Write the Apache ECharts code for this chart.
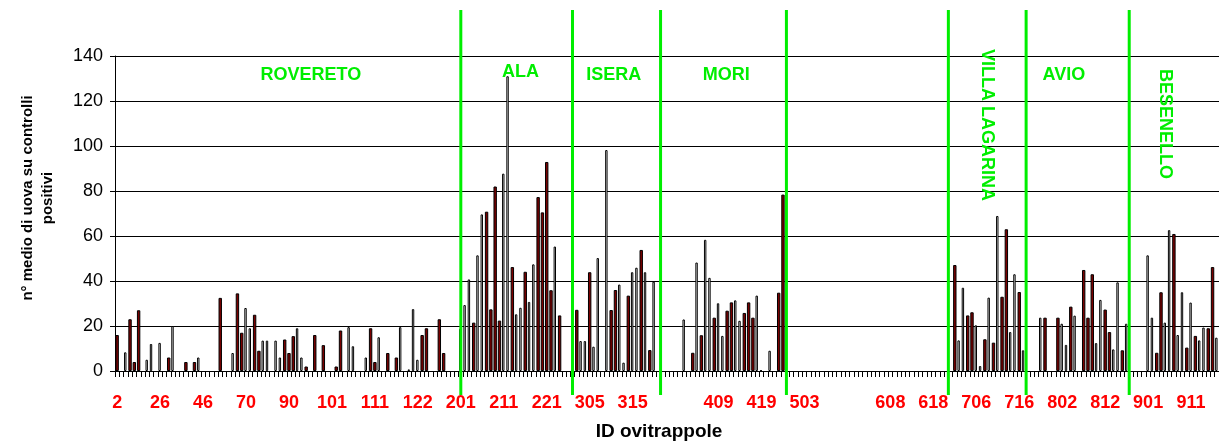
<!DOCTYPE html>
<html><head><meta charset="utf-8">
<script src="https://cdn.jsdelivr.net/npm/echarts@6/dist/echarts.min.js"></script>
<style>html,body{margin:0;padding:0;background:#fff}#c{width:1219px;height:444px}</style>
</head><body><div id="c"></div>
<script>
// Categorie (ID ovitrappole)
const categorie = [
 '2','3','5','8','10','12','15','18','21','23',
 '26','28','30','32','34','36','38','40','42','44',
 '46','48','51','53','56','58','61','63','66','68',
 '70','72','74','76','78','80','82','84','86','88',
 '90','91','92','93','94','95','96','97','98','99',
 '101','102','103','104','105','106','107','108','109','110',
 '111','112','113','114','115','116','117','118','119','120',
 '122','123','124','125','126','127','128','129','130','131',
 '201','202','203','204','205','206','207','208','209','210',
 '211','212','213','214','215','216','217','218','219','220',
 '221','222','223','224','225','226','227','302','303','304',
 '305','306','307','308','309','310','311','312','313','314',
 '315','316','317','318','319','320','321','322','323','324',
 ' ','400','401','402','403','404','405','406','407','408',
 '409','410','411','412','413','414','415','416','417','418',
 '419','420','421','422','423','424','425','500','501','502',
 '503','504','505','506','507','508','509','510','511','512',
 '  ','599','600','601','602','603','604','605','606','607',
 '608','609','610','611','612','613','614','615','616','617',
 '618','619','620','621','700','701','702','703','704','705',
 '706','707','708','709','710','711','712','713','714','715',
 '716','717','718','719','795','796','797','798','799','800',
 '802','803','804','805','806','807','808','809','810','811',
 '812','813','814','815','816','817','897','898','899','900',
 '901','902','903','904','905','906','907','908','909','910',
 '911','912','913','914','915','916','917'
];
const _ = null;
// barre rosso scuro
const valoriRossi = [
 16,_,_,23,4,27,_,_,_,_,
 _,_,6,_,_,_,4,_,4,_,
 _,_,_,_,32.5,_,_,_,34.5,17,
 _,_,25,9,_,_,_,_,_,14,
 8,15.5,_,_,2,_,16,_,11.5,_,
 _,2,18,_,_,_,_,_,_,19,
 4,_,_,8,_,6,_,_,_,_,
 _,16,19,_,_,23,8,_,_,_,
 _,_,_,21.5,_,_,70.8,27.4,82,22.4,
 _,_,46.2,_,_,44.1,_,_,77.3,70.5,
 92.9,35.9,_,24.7,_,_,_,27.2,_,_,
 43.9,_,_,_,_,27.1,36,_,_,33.5,
 _,_,53.8,_,9.3,_,_,_,_,_,
 _,_,_,_,8.1,_,15.9,_,_,23.7,
 _,_,26.8,30.5,_,_,25.8,30.5,23.7,_,
 _,_,_,_,34.8,78.4,_,_,_,_,
 _,_,_,_,_,_,_,_,_,_,
 _,_,_,_,_,_,_,_,_,_,
 _,_,_,_,_,_,_,_,_,_,
 _,_,_,_,_,47.1,_,_,24.7,26.1,
 _,_,14.1,_,12.6,_,33,63,_,_,
 35.1,_,_,_,_,_,23.7,_,_,23.7,
 _,_,28.6,_,_,44.9,23.7,43,_,_,
 27.3,17.3,_,_,9.2,_,_,_,_,_,
 _,_,8.1,35,_,_,60.9,_,_,10.4,
 _,15.6,_,_,19,46.2,_
];
// barre bianche (bordo nero)
const valoriBianchi = [
 _,_,8.3,_,_,_,_,5,12,_,
 12.5,_,_,20,_,_,_,_,_,6,
 _,_,_,_,_,_,_,8,_,_,
 28,19,_,_,13.5,13.5,_,13.5,6,_,
 _,_,19,6,_,_,_,_,_,_,
 _,_,_,_,19.5,11,_,_,6,_,
 _,15,_,_,_,_,19.5,_,0.7,27.5,
 5,_,_,_,_,_,_,_,_,_,
 18.8,29.3,40.7,_,51.4,69.6,_,_,_,_,
 87.7,131,_,25.2,28.1,_,30.7,47.4,_,_,
 _,_,55.3,_,_,_,_,_,13.3,13.3,
 _,10.8,50.2,_,98.2,_,_,38.4,3.7,_,
 43.9,45.9,_,43.9,_,39.7,_,_,_,_,
 _,_,22.9,_,_,48.2,_,58.3,41.4,_,
 30.1,15.6,_,_,31.4,22.3,_,_,_,33.5,
 0.4,_,9,_,_,_,_,_,_,_,
 _,_,_,_,_,_,_,_,_,_,
 _,_,_,_,_,_,_,_,_,_,
 _,_,_,_,_,_,_,_,_,_,
 _,_,_,_,_,_,13.6,37,_,_,
 20.3,2.2,_,32.6,_,68.9,_,_,17.3,43,
 _,9.2,_,_,_,23.7,_,_,_,_,
 21,11.6,_,24.6,_,_,_,_,12.4,31.6,
 _,_,9.6,39.4,_,21,_,_,_,_,
 51.4,23.7,_,_,21.5,62.6,_,16,35,_,
 30.4,_,13.6,19.3,_,_,14.8
];
// asse y
const yMin = 0, yMax = 140, yStep = 20;
// linee verdi di separazione (posizione in categorie)
const separatori = [80.0, 106.0, 126.5, 155.8, 193.5, 211.6, 235.6];
const sepTop = 160.5, sepBottom = -10.7;
// nomi dei comuni
const zoneNomi = ['ROVERETO','ALA','ISERA','MORI','VILLA LAGARINA','AVIO','BESENELLO'];
const zonePos  = [45.1, 93.9, 115.6, 141.8, 202.5, 220.4, 243.9];
const zoneY    = [131.6, 132.9, 131.6, 131.6, 109.3, 131.6, 109.8];
const zoneRuotate = [false,false,false,false,true,false,true];

const FONT = "'Liberation Sans', Arial, sans-serif";
const VERDE = '#00ee00';
const chart = echarts.init(document.getElementById('c'), null, {renderer:'canvas'});
chart.setOption({
  animation: false,
  backgroundColor: '#fff',
  grid: {left: 115, top: 56, width: 1105, height: 315, containLabel: false},
  xAxis: {
    type: 'category', data: categorie, boundaryGap: true,
    axisLine: {lineStyle: {color: '#000', width: 1}},
    axisTick: {show: true, interval: 0, length: 6, lineStyle: {color: '#000'}},
    axisLabel: {interval: 9, color: '#ff0000', fontWeight: 'bold', fontSize: 18, fontFamily: FONT, margin: 23},
    splitLine: {show: false}
  },
  yAxis: {
    type: 'value', min: yMin, max: yMax, interval: yStep,
    axisLine: {show: true, lineStyle: {color: '#000', width: 1}},
    axisTick: {show: true, length: 5, lineStyle: {color: '#000'}},
    axisLabel: {color: '#000', fontSize: 18, fontFamily: FONT, margin: 12},
    splitLine: {show: true, lineStyle: {color: '#000', width: 1}}
  },
  graphic: [
    {type: 'text', x: 38, y: 198, rotation: Math.PI/2,
     style: {text: 'n° medio di uova su controlli\npositivi', fill: '#000', font: "bold 15px " + FONT,
             textAlign: 'center', textVerticalAlign: 'middle', align: 'center', verticalAlign: 'middle', lineHeight: 20}},
    {type: 'text', x: 659, y: 432,
     style: {text: 'ID ovitrappole', fill: '#000', font: "bold 19px " + FONT,
             textAlign: 'center', textVerticalAlign: 'middle', align: 'center', verticalAlign: 'middle'}}
  ],
  series: [
    {type: 'bar', name: 'bianco', data: valoriBianchi, barWidth: 2.4, barGap: '-100%',
     itemStyle: {color: '#fff', borderColor: '#000', borderWidth: 1}},
    {type: 'bar', name: 'rosso', data: valoriRossi, barWidth: 3.4, barGap: '-100%',
     itemStyle: {color: '#7a0000', borderColor: '#000', borderWidth: 1}},
    {type: 'custom', name: 'sep', clip: false, z: 10,
     data: separatori.map(p => [Math.floor(p), 0]),
     renderItem: function (params, api) {
       const p = separatori[params.dataIndex];
       const i = Math.floor(p);
       const bw = api.size([1, 0])[0];
       const x = api.coord([i, 0])[0] + (p - i) * bw;
       const y1 = api.coord([i, sepTop])[1];
       const y2 = api.coord([i, sepBottom])[1];
       return {type: 'line', shape: {x1: x, y1: y1, x2: x, y2: y2},
               style: {stroke: VERDE, lineWidth: 3}};
     }},
    {type: 'custom', name: 'zone', clip: false, z: 11,
     data: zonePos.map((p, k) => [Math.floor(p), zoneY[k]]),
     renderItem: function (params, api) {
       const k = params.dataIndex;
       const p = zonePos[k];
       const i = Math.floor(p);
       const bw = api.size([1, 0])[0];
       const x = api.coord([i, 0])[0] + (p - i) * bw;
       const y = api.coord([i, zoneY[k]])[1];
       return {type: 'text', x: x, y: y, rotation: zoneRuotate[k] ? -Math.PI/2 : 0,
               style: {text: zoneNomi[k], fill: VERDE, font: "bold 18px " + FONT,
                       textAlign: 'center', textVerticalAlign: 'middle', align: 'center', verticalAlign: 'middle'}};
     }}
  ]
});
</script></body></html>
